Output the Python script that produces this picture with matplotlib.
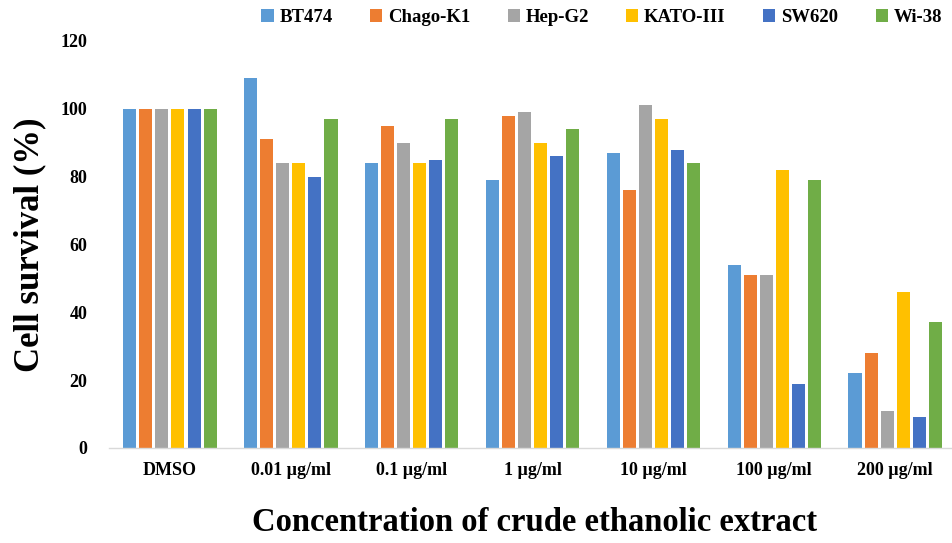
import numpy as np
import matplotlib
matplotlib.use("Agg")
import matplotlib.pyplot as plt

# Cell survival (%) per cell line at each treatment concentration
concentrations = ['DMSO', '0.01 µg/ml', '0.1 µg/ml', '1 µg/ml',
                  '10 µg/ml', '100 µg/ml', '200 µg/ml']
cell_lines = ['BT474', 'Chago-K1', 'Hep-G2', 'KATO-III', 'SW620', 'Wi-38']

bt474 = [100, 109, 84, 79, 87, 54, 22]
chago_k1 = [100, 91, 95, 98, 76, 51, 28]
hep_g2 = [100, 84, 90, 99, 101, 51, 11]
kato_iii = [100, 84, 84, 90, 97, 82, 46]
sw620 = [100, 80, 85, 86, 88, 19, 9]
wi_38 = [100, 97, 97, 94, 84, 79, 37]

series = [bt474, chago_k1, hep_g2, kato_iii, sw620, wi_38]
colors = ['#5B9BD5', '#ED7D31', '#A5A5A5', '#FFC000', '#4472C4', '#70AD47']

plt.rcParams['font.family'] = ['Liberation Serif', 'DejaVu Serif']
plt.rcParams['font.weight'] = 'bold'

fig = plt.figure(figsize=(9.52, 5.43), dpi=100)
ax = fig.add_axes([0.115, 0.175, 0.885, 0.7495])

x = np.arange(len(concentrations))
pitch = 0.133
width = 0.108
for i, (vals, name, col) in enumerate(zip(series, cell_lines, colors)):
    offset = (i - (len(series) - 1) / 2) * pitch
    ax.bar(x + offset, vals, width=width, color=col, label=name)

ax.set_xlim(-0.5, 6.47)
ax.set_ylim(0, 120)
ax.set_yticks(range(0, 121, 20))
ax.set_xticks(x)
ax.set_xticklabels(concentrations)
ax.tick_params(axis='both', length=0, labelsize=13)
ax.tick_params(axis='y', pad=16)
ax.tick_params(axis='x', pad=10)

for side in ['top', 'right', 'left']:
    ax.spines[side].set_visible(False)
ax.spines['bottom'].set_color('#D9D9D9')
ax.spines['bottom'].set_linewidth(1.0)

ax.set_ylabel('Cell survival (%)', fontsize=25, fontweight='bold', labelpad=10)
fig.text(0.562, 0.038, 'Concentration of crude ethanolic extract',
         ha='center', va='center', fontsize=23.5, fontweight='bold')

fig.legend(loc='center', bbox_to_anchor=(0.632, 0.968), ncol=6, frameon=False,
           fontsize=13.5, handlelength=0.65, handleheight=0.65, handletextpad=0.3,
           columnspacing=2.0)

fig.savefig('out.png', dpi=100)
